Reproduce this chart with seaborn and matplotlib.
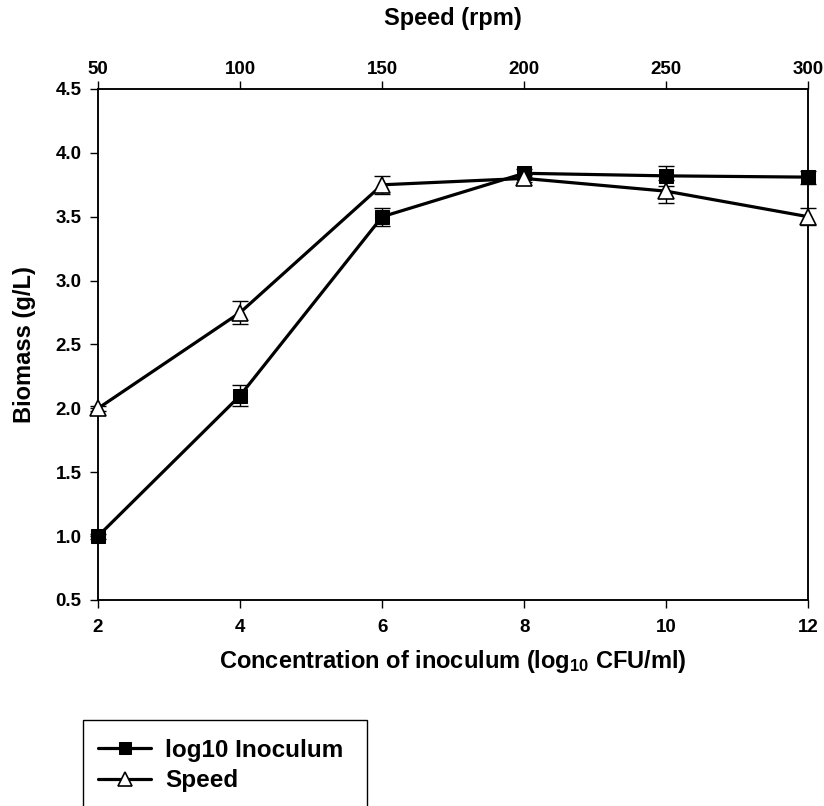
import matplotlib
matplotlib.use("Agg")
import matplotlib.pyplot as plt
from matplotlib.patches import Rectangle
import numpy as np
import pandas as pd
import seaborn as sns

# data
inoculum = [2, 4, 6, 8, 10, 12]
biomass_inoculum = [1.0, 2.1, 3.5, 3.84, 3.82, 3.81]
err_inoculum = [0.02, 0.085, 0.07, 0.03, 0.08, 0.05]

speed = [50, 100, 150, 200, 250, 300]
biomass_speed = [2.0, 2.75, 3.75, 3.8, 3.7, 3.5]
err_speed = [0.02, 0.09, 0.07, 0.03, 0.09, 0.065]

x_ticks = [2, 4, 6, 8, 10, 12]
speed_ticks = [50, 100, 150, 200, 250, 300]
y_ticks = [0.5, 1.0, 1.5, 2.0, 2.5, 3.0, 3.5, 4.0, 4.5]


def main():
    sns.set_style("ticks")
    plt.rcParams['font.family'] = ['Liberation Sans', 'DejaVu Sans']
    plt.rcParams['font.weight'] = 'bold'
    plt.rcParams['text.color'] = 'black'
    plt.rcParams['axes.labelcolor'] = 'black'
    plt.rcParams['mathtext.fontset'] = 'custom'
    plt.rcParams['mathtext.rm'] = 'Liberation Sans:bold'
    plt.rcParams['mathtext.bf'] = 'Liberation Sans:bold'
    plt.rcParams['mathtext.default'] = 'bf'

    df_in = pd.DataFrame({'x': inoculum, 'y': biomass_inoculum})
    df_sp = pd.DataFrame({'x': speed, 'y': biomass_speed})

    fig = plt.figure(figsize=(8.24, 8.06), dpi=100)
    ax = fig.add_axes([0.119, 0.2556, 0.862, 0.634])
    ax2 = ax.twiny()

    # 1. inoculum series on the bottom axis
    eb = ax.errorbar(inoculum, biomass_inoculum, yerr=err_inoculum, fmt='none',
                     ecolor='black', elinewidth=1, capsize=5.5, capthick=1, zorder=2)
    sns.lineplot(data=df_in, x='x', y='y', ax=ax, color='black', lw=2.3,
                 marker='s', markersize=10.5, markerfacecolor='black',
                 markeredgecolor='black', label='log10 Inoculum', legend=False,
                 zorder=3, clip_on=False)

    # 2. speed series on the top axis
    eb2 = ax2.errorbar(speed, biomass_speed, yerr=err_speed, fmt='none',
                       ecolor='black', elinewidth=1, capsize=5.5, capthick=1, zorder=2)
    sns.lineplot(data=df_sp, x='x', y='y', ax=ax2, color='black', lw=2.3,
                 marker='^', markersize=12, markerfacecolor='white',
                 markeredgecolor='black', markeredgewidth=1.2, label='Speed',
                 legend=False, zorder=3, clip_on=False)
    for e in (eb, eb2):
        for art in e.get_children():
            art.set_clip_on(False)

    ax.set_xlim(2, 12)
    ax2.set_xlim(50, 300)
    ax.set_ylim(0.5, 4.5)
    ax.set_xticks(x_ticks)
    ax.set_yticks(y_ticks)
    ax.set_yticklabels([f"{v:.1f}" for v in y_ticks])
    ax2.set_xticks(speed_ticks)

    for a in (ax, ax2):
        for s in a.spines.values():
            s.set_linewidth(1.1)
            s.set_color('black')
        a.tick_params(direction='out', length=6, width=1, labelsize=13.5,
                      colors='black', pad=6)
        a.set_ylabel('')
    ax.tick_params(axis='x', pad=8)
    ax2.tick_params(axis='x', pad=2)

    ax.set_xlabel(r"Concentration of inoculum (log$_{10}$ CFU/ml)",
                  fontsize=17, fontweight='bold', labelpad=8)
    ax.set_ylabel("Biomass (g/L)", fontsize=17, fontweight='bold', labelpad=14)
    ax2.set_xlabel("Speed (rpm)", fontsize=17, fontweight='bold', labelpad=26)

    h1, l1 = ax.get_legend_handles_labels()
    h2, l2 = ax2.get_legend_handles_labels()
    leg = fig.legend(h1 + h2, l1 + l2, loc='upper left',
                     bbox_to_anchor=(98 / 824, 1 - 739 / 806), fontsize=17.5,
                     frameon=False, borderpad=0, handlelength=2.2,
                     handletextpad=0.55, labelspacing=0.3, borderaxespad=0,
                     markerscale=0.8)
    for t in leg.get_texts():
        t.set_fontweight('bold')

    # legend box, its bottom runs off the page as in the reference
    fig.patches.append(Rectangle((83 / 824, -0.05), (367 - 83) / 824,
                                 (806 - 720) / 806 + 0.05,
                                 transform=fig.transFigure, fill=False,
                                 edgecolor='black', linewidth=1.0))

    fig.savefig("out.png", dpi=100)


if __name__ == "__main__":
    main()
